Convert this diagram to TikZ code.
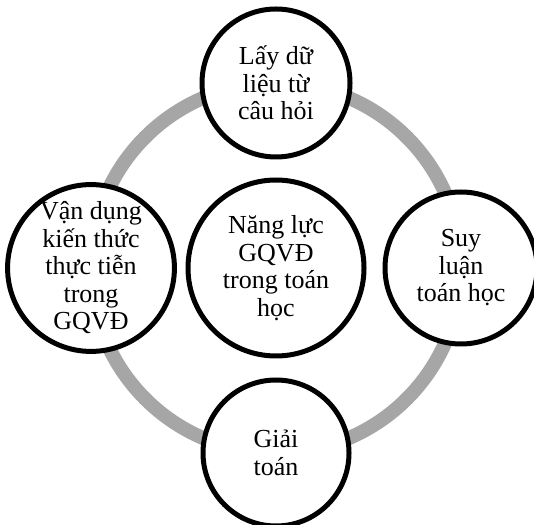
\documentclass[tikz,border=0pt]{standalone}
\usepackage{fontspec}
\setmainfont{Liberation Serif}
\usepackage{tikz}
\usetikzlibrary{calc}
\definecolor{ringgray}{HTML}{A6A6A6}

\begin{document}
\begin{tikzpicture}[x=1pt, y=1pt,
    bubble/.style={circle, draw=black, line width=5pt, fill=white, align=center,
        inner sep=0pt, font=\fontsize{26}{27.5}\selectfont}]
    \useasboundingbox (0,0) rectangle (534,524);
    \clip (0,0) rectangle (534,524);
    % Centre of the ring
    \coordinate (O) at (276,256);

    % Grey ring behind the satellites
    \draw[line width=14pt, color=ringgray] (O) circle (185);

    \node[bubble, minimum size=176] (core) at (O) {Năng lực\\GQVĐ\\trong toán\\học};
    \node[bubble, minimum size=148] (data) at ($(O)+(90:185)$) {Lấy dữ\\liệu từ\\câu hỏi};
    \node[bubble, minimum size=152] (reason) at ($(O)+(0:185)$) {Suy\\luận\\toán học};
    \node[bubble, minimum size=146] (solve) at ($(O)+(270:185)$) {Giải\\toán};
    \node[bubble, minimum size=166] (apply) at ($(O)+(180:185)$) {Vận dụng\\kiến thức\\thực tiễn\\trong\\GQVĐ};
\end{tikzpicture}
\end{document}
